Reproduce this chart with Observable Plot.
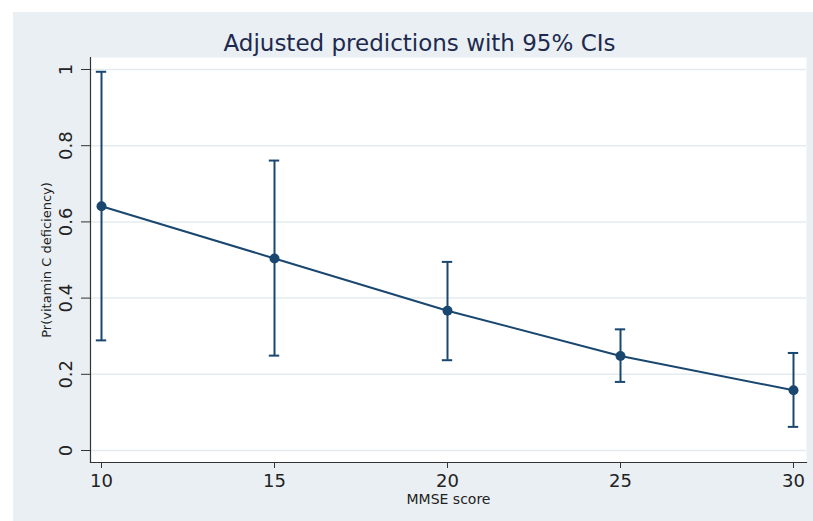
<!DOCTYPE html>
<html>
<head>
<meta charset="utf-8">
<script src="https://cdn.jsdelivr.net/npm/d3@7"></script>
<script src="https://cdn.jsdelivr.net/npm/@observablehq/plot@0.6"></script>
<style>
  html, body { margin: 0; padding: 0; background: #ffffff; }
  #wrap { position: relative; width: 813px; height: 521px; overflow: hidden; }
  #bg { position: absolute; left: 13px; top: 12px; right: 0; bottom: 0; background: #e9eff3; }
  #title { position: absolute; left: 13px; width: 813px; top: 30px; text-align: center; white-space: nowrap;
           font-family: "DejaVu Sans", sans-serif; font-size: 23px; color: #1d2a4e; }
  #chart { position: absolute; left: 0; top: 0; }
</style>
</head>
<body>
<div id="wrap">
  <div id="bg"></div>
  <div id="chart"></div>
  <div id="title">Adjusted predictions with 95% CIs</div>
</div>
<script>
const mmse = [10, 15, 20, 25, 30];
const prob = [0.641, 0.504, 0.367, 0.248, 0.158];
const lower = [0.289, 0.249, 0.237, 0.180, 0.062];
const upper = [0.994, 0.761, 0.495, 0.318, 0.256];
const xTicks = [10, 15, 20, 25, 30];
const yTicks = [0, 0.2, 0.4, 0.6, 0.8, 1];
const xLabel = "MMSE score";
const yLabel = "Pr(vitamin C deficiency)";

const data = mmse.map((x, i) => ({x, p: prob[i], lo: lower[i], hi: upper[i]}));
const navy = "#1a476f";
const capHalf = 0.15;

const chart = Plot.plot({
  width: 813,
  height: 521,
  marginLeft: 90,
  marginRight: 7,
  marginTop: 57,
  marginBottom: 59,
  style: {background: "transparent", fontFamily: "'DejaVu Sans', sans-serif", color: "#222"},
  x: {domain: [10, 30], insetLeft: 11, insetRight: 13},
  y: {domain: [0, 1], insetTop: 12, insetBottom: 12},
  marks: [
    Plot.frame({fill: "white", stroke: "none"}),
    Plot.gridY(yTicks, {stroke: "#e3ecef", strokeOpacity: 1, strokeWidth: 1.5}),
    Plot.frame({anchor: "left", stroke: "#333", strokeWidth: 1.2}),
    Plot.frame({anchor: "bottom", stroke: "#333", strokeWidth: 1.2}),
    Plot.axisX({ticks: xTicks, tickSize: 6, tickPadding: 6, fontSize: 18, label: null, stroke: "#333"}),
    Plot.axisY({ticks: yTicks, tickSize: 9, tickPadding: 10, fontSize: 18, tickRotate: -90, label: null, stroke: "#333", tickFormat: d => String(d)}),
    Plot.text([xLabel], {frameAnchor: "bottom", lineAnchor: "middle", dy: 37, fontSize: 14, fill: "#222"}),
    Plot.text([yLabel], {frameAnchor: "left", textAnchor: "middle", lineAnchor: "middle", dx: -44, rotate: -90, fontSize: 13, fill: "#222"}),
    Plot.ruleX(data, {x: "x", y1: "lo", y2: "hi", stroke: navy, strokeWidth: 2}),
    Plot.ruleY(data, {y: "hi", x1: d => d.x - capHalf, x2: d => d.x + capHalf, stroke: navy, strokeWidth: 2}),
    Plot.ruleY(data, {y: "lo", x1: d => d.x - capHalf, x2: d => d.x + capHalf, stroke: navy, strokeWidth: 2}),
    Plot.line(data, {x: "x", y: "p", stroke: navy, strokeWidth: 2}),
    Plot.dot(data, {x: "x", y: "p", r: 5, fill: navy, stroke: "none"})
  ]
});
document.getElementById("chart").appendChild(chart);
</script>
</body>
</html>
